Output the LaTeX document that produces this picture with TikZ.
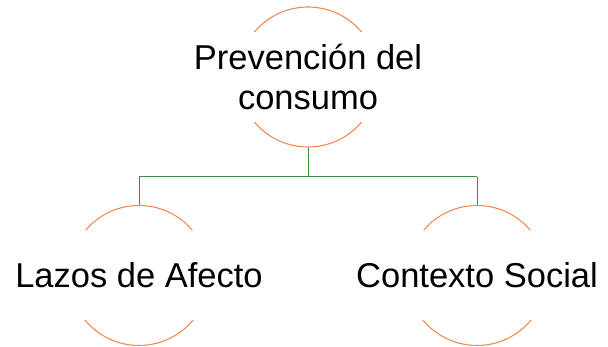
\documentclass[tikz,border=0pt]{standalone}
\usepackage{fontspec}
\setmainfont{Liberation Sans}
\definecolor{ringorange}{HTML}{EE8A55}
\definecolor{linkgreen}{HTML}{3E8E3E}
\begin{document}
\begin{tikzpicture}[x=1pt,y=-1pt,
  ring/.style={circle,draw=ringorange,line width=1.1pt,minimum size=140pt,inner sep=0pt},
  mask/.style={fill=white,minimum width=170pt,minimum height=90pt,inner sep=0pt,
    font=\fontsize{34.5}{40}\selectfont,align=center},
  link/.style={draw=linkgreen,line width=1pt}]
\useasboundingbox (0,0) rectangle (608,347);
\node[ring] (c1) at (308,77) {};
\node[ring] (c2) at (139,275.5) {};
\node[ring] (c3) at (477,275.5) {};
\node[mask] (t1) at (308,77) {Prevención del\\consumo};
\node[mask] (t2) at (139,275.5) {Lazos de Afecto};
\node[mask] (t3) at (477,275.5) {Contexto Social};
\coordinate (j) at (308,177);
\coordinate (jl) at (139,177);
\coordinate (jr) at (477,177);
\draw[link] (c1.south) -- (j) (jl) -- (jr) (jl) -- (c2.north) (jr) -- (c3.north);
\end{tikzpicture}
\end{document}
